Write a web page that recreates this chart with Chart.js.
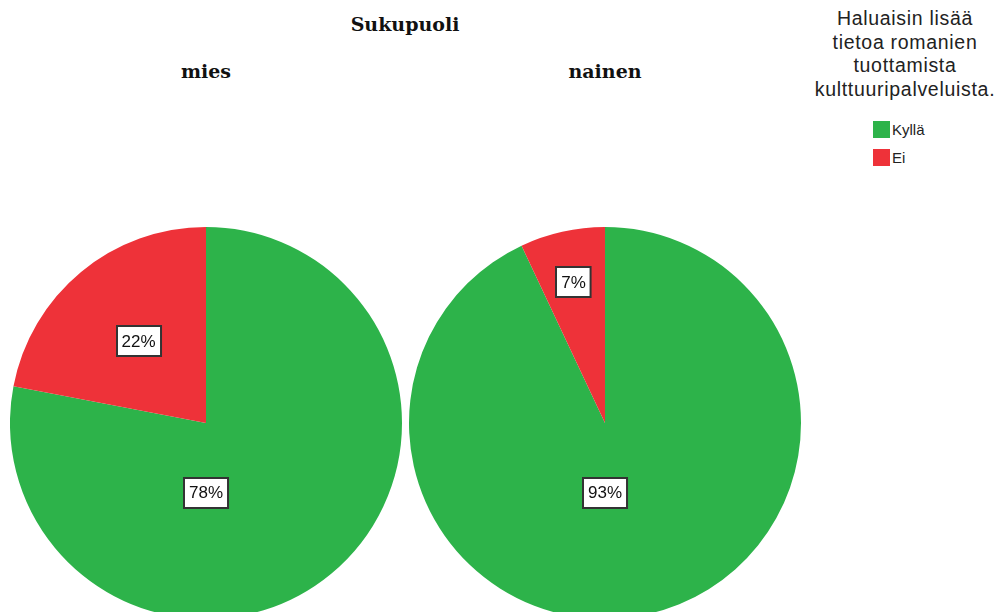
<!DOCTYPE html>
<html>
<head>
<meta charset="utf-8">
<script src="https://cdn.jsdelivr.net/npm/chart.js@4/dist/chart.umd.min.js"></script>
<style>
    body { margin: 0; width: 997px; height: 612px; overflow: hidden; background: #fff; position: relative; }
    .serif { position: absolute; font-family: "DejaVu Serif", serif; font-weight: bold; color: #111; transform: translateX(-50%); white-space: nowrap; }
    .pieBox { position: absolute; width: 392px; height: 392px; top: 227px; }
    #legend { position: absolute; left: 800px; top: 7px; width: 210px; font-family: "Liberation Sans", Arial, sans-serif; color: #222; }
    #legendTitle { text-align: center; font-size: 19.5px; line-height: 23.5px; letter-spacing: 0.7px; }
    .item { position: relative; height: 28px; font-size: 15px; margin-left: 73px; }
    .swatch { position: absolute; left: 0; top: 6px; width: 17px; height: 17px; }
    .item span.t { position: absolute; left: 19px; top: 6px; }
</style>
</head>
<body>
<div class="serif" style="left:405px; top:13px; font-size:19px;">Sukupuoli</div>
<div class="serif" id="title0" style="left:206px; top:60px; font-size:19px;"></div>
<div class="serif" id="title1" style="left:605px; top:60px; font-size:19px;"></div>
<div class="pieBox" style="left:10px;"><canvas id="pie0"></canvas></div>
<div class="pieBox" style="left:409px;"><canvas id="pie1"></canvas></div>
<div id="legend"><div id="legendTitle"></div><div id="legendItems" style="margin-top:14px;"></div></div>
<script>
// Groups (one pie per group) and answer categories
let groups = ['mies', 'nainen'];
let answers = ['Kyllä', 'Ei'];
// Percent of answers in each group
let miesValues = [78, 22];
let nainenValues = [93, 7];
// Legend title, one entry per printed line
let legendTitleLines = ['Haluaisin lisää', 'tietoa romanien', 'tuottamista', 'kulttuuripalveluista.'];

let colors = ['#2db34a', '#ee3239'];

// Draws the percentage labels in white boxes on top of the slices
let boxLabels = {
    id: 'boxLabels',
    afterDatasetsDraw(chart) {
        let ctx = chart.ctx;
        let meta = chart.getDatasetMeta(0);
        let data = chart.data.datasets[0].data;
        let total = data.reduce((a, b) => a + b, 0);
        ctx.save();
        ctx.font = '17px "Liberation Sans", Arial, sans-serif';
        ctx.textAlign = 'center';
        ctx.textBaseline = 'middle';
        meta.data.forEach((arc, i) => {
            let share = data[i] / total;
            let p = arc.getProps(['x', 'y', 'startAngle', 'endAngle', 'outerRadius'], true);
            let x, y;
            if (share > 0.5) {
                // big slice: label sits below the centre
                x = p.x;
                y = p.y + p.outerRadius * 0.355;
            } else {
                // small slice: label along the middle angle, further out when narrow
                let mid = (p.startAngle + p.endAngle) / 2;
                let f = 0.54 + (0.22 - share) * 1.3;
                x = p.x + Math.cos(mid) * p.outerRadius * f;
                y = p.y + Math.sin(mid) * p.outerRadius * f;
            }
            let text = data[i] + '%';
            let w = ctx.measureText(text).width + 10;
            let h = 30;
            ctx.fillStyle = '#fff';
            ctx.fillRect(Math.round(x - w / 2), Math.round(y - h / 2), w, h);
            ctx.strokeStyle = '#333';
            ctx.lineWidth = 2;
            ctx.strokeRect(Math.round(x - w / 2), Math.round(y - h / 2), w, h);
            ctx.fillStyle = '#111';
            ctx.fillText(text, x, y + 1);
        });
        ctx.restore();
    }
};

function buildPie(canvasId, values) {
    let ctx = document.getElementById(canvasId).getContext('2d');
    return new Chart(ctx, {
        type: 'pie',
        data: {
            labels: answers,
            datasets: [{
                data: values,
                backgroundColor: colors,
                borderWidth: 0
            }]
        },
        options: {
            responsive: true,
            maintainAspectRatio: false,
            animation: false,
            layout: { padding: 0 },
            plugins: {
                legend: { display: false },
                tooltip: { enabled: false }
            }
        },
        plugins: [boxLabels]
    });
}

function buildLegend() {
    document.getElementById('legendTitle').innerHTML = legendTitleLines.join('<br>');
    let box = document.getElementById('legendItems');
    for (let i = 0; i < answers.length; i++) {
        let row = document.createElement('div');
        row.className = 'item';
        row.innerHTML = '<span class="swatch" style="background:' + colors[i] + '"></span><span class="t">' + answers[i] + '</span>';
        box.appendChild(row);
    }
}

function init() {
    document.getElementById('title0').innerText = groups[0];
    document.getElementById('title1').innerText = groups[1];
    buildLegend();
    buildPie('pie0', miesValues);
    buildPie('pie1', nainenValues);
}

init();
</script>
</body>
</html>
